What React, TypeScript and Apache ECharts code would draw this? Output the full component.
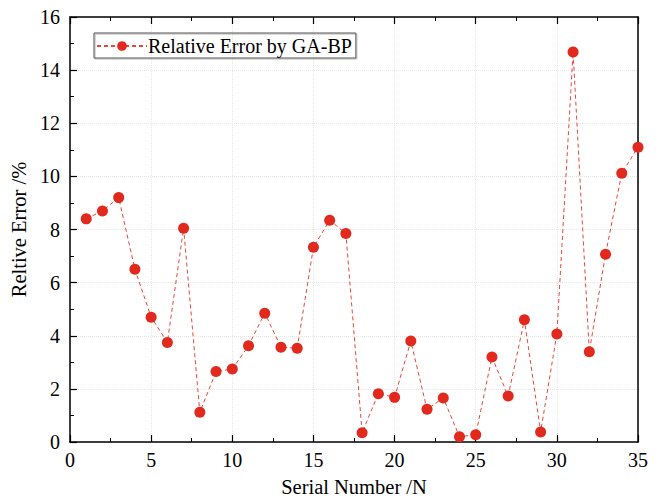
import React, { useEffect, useRef } from "react";
import * as echarts from "echarts";

const serialNumbers = [
  1, 2, 3, 4, 5, 6, 7, 8, 9, 10, 11, 12, 13, 14, 15, 16, 17, 18, 19, 20, 21, 22, 23, 24, 25, 26, 27, 28, 29, 30, 31, 32, 33, 34, 35,
];
const relativeErrors = [
  8.4, 8.7, 9.2, 6.5, 4.7, 3.75, 8.05, 1.12, 2.65, 2.75, 3.62, 4.85, 3.57, 3.53, 7.33, 8.35, 7.85, 0.35, 1.82, 1.68, 3.8, 1.23,
  1.66, 0.2, 0.27, 3.2, 1.73, 4.6, 0.38, 4.07, 14.68, 3.4, 7.07, 10.12, 11.1,
];
const seriesName = "Relative Error by GA-BP";
const xAxisTitle = "Serial Number /N";
const yAxisTitle = "Reltive Error /%";

const FONT = "'Liberation Serif', 'Times New Roman', serif";

export default function App() {
  const ref = useRef<HTMLDivElement>(null);
  useEffect(() => {
    if (!ref.current) return;
    const chart = echarts.init(ref.current, null, { renderer: "svg" });
    const axisLine = { show: true, onZero: false, lineStyle: { color: "#000", width: 1.5 } };
    const axisTick = { show: true, inside: true, length: 7, lineStyle: { color: "#000", width: 1.2 } };
    const minorTick = { show: true, splitNumber: 2, length: 4, lineStyle: { color: "#000", width: 1 } };
    chart.setOption({
      animation: false,
      backgroundColor: "#fff",
      textStyle: { fontFamily: FONT },
      grid: { left: 70, right: 24, top: 17, bottom: 57, containLabel: false, outerBoundsMode: "none" },
      legend: {
        show: true,
        left: 94,
        top: 33,
        orient: "horizontal",
        data: [seriesName],
        itemWidth: 50,
        itemHeight: 12,
        itemGap: 0,
        padding: [3, 4, 2, 2],
        borderColor: "#555",
        borderWidth: 1,
        shadowColor: "rgba(0,0,0,0.3)",
        shadowOffsetX: 1,
        shadowOffsetY: 1,
        textStyle: { fontFamily: FONT, fontSize: 20, color: "#000", padding: [0, 0, 0, -4] },
      },
      xAxis: [
        {
          type: "value",
          min: 0,
          max: 35,
          interval: 5,
          name: xAxisTitle,
          nameLocation: "middle",
          nameGap: 34,
          nameTextStyle: { fontFamily: FONT, fontSize: 20.5, color: "#000" },
          axisLabel: { fontFamily: FONT, fontSize: 20, color: "#000", margin: 8 },
          splitLine: { show: true, lineStyle: { color: "#e6e6e6", type: "dotted", width: 1 } },
          axisLine,
          axisTick,
          minorTick,
        },
        {
          type: "value",
          position: "top",
          min: 0,
          max: 35,
          interval: 5,
          axisLabel: { show: false },
          splitLine: { show: false },
          axisLine,
          axisTick,
          minorTick,
        },
      ],
      yAxis: [
        {
          type: "value",
          min: 0,
          max: 16,
          interval: 2,
          name: yAxisTitle,
          nameLocation: "middle",
          nameGap: 38,
          nameTextStyle: { fontFamily: FONT, fontSize: 20.5, color: "#000" },
          axisLabel: { fontFamily: FONT, fontSize: 20, color: "#000", margin: 10 },
          splitLine: { show: true, lineStyle: { color: "#e6e6e6", type: "dotted", width: 1 } },
          axisLine,
          axisTick,
          minorTick,
        },
        {
          type: "value",
          position: "right",
          min: 0,
          max: 16,
          interval: 2,
          axisLabel: { show: false },
          splitLine: { show: false },
          axisLine,
          axisTick: { show: false },
          minorTick: { show: false },
        },
      ],
      series: [
        {
          name: seriesName,
          type: "line",
          xAxisIndex: 0,
          yAxisIndex: 0,
          data: serialNumbers.map((n, i) => [n, relativeErrors[i]]),
          symbol: "circle",
          symbolSize: 11,
          clip: false,
          itemStyle: { color: "#e1291d" },
          lineStyle: { color: "#e8473c", width: 1, type: [4, 3] },
        },
      ],
    });
    return () => chart.dispose();
  }, []);
  return <div ref={ref} style={{ position: "fixed", left: 0, top: 0, width: 662, height: 499 }} />;
}
